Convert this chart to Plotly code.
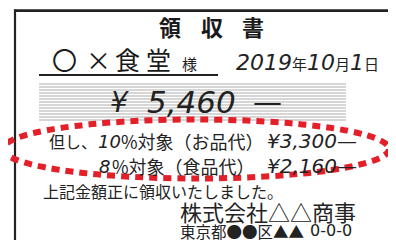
import plotly.graph_objects as go

# ---- data ----
title_chars = ["領", "収", "書"]
customer_chars = ["〇", "×", "食", "堂"]
customer_suffix = "様"
date_year, date_month, date_day = 2019, 10, 1
total_amount = 5460
tax_rates = [10, 8]
item_labels = ["対象（お品代）", "対象（食品代）"]
item_amounts = [3300, 2160]
note_text = "上記金額正に領収いたしました。"
company_name = "株式会社△△商事"
address_text = "東京都●●区▲▲"
address_number = "0-0-0"

W, H = 396, 240
OFF = 8  # page body margin
JP = "Noto Sans CJK JP"
LAT = "DejaVu Sans"

fig = go.Figure()
shapes = []
ann = []

def text(x, y, s, size, family=JP, anchor="left", color="#222222", yanchor="middle"):
    ann.append(dict(x=x, y=y, text=s, showarrow=False, xanchor=anchor, yanchor=yanchor,
                    font=dict(size=size, family=family, color=color),
                    xref="x", yref="y", borderpad=0))

# border
shapes.append(dict(type="line", x0=14, x1=W + 5, y0=10.7, y1=10.7, line=dict(color="#222", width=2.8)))
shapes.append(dict(type="line", x0=15, x1=15, y0=9.5, y1=H + 5, line=dict(color="#222", width=2.2)))

# title
for cx, ch in zip([170, 212, 253], title_chars):
    text(cx, 26, "<b>" + ch + "</b>", 22, anchor="center", color="#1a1a1a")

# customer
for cx, ch in zip([64, 98, 127, 158], customer_chars):
    text(cx, 59, ch, 25, anchor="center", color="#1a1a1a")
text(189, 63, customer_suffix, 15, anchor="center")
shapes.append(dict(type="line", x0=39, x1=218, y0=75, y1=75, line=dict(color="#222", width=2)))

# date
date_html = ("<i>%d</i><span style='font-size:15px'>年</span><i>%d</i>"
             "<span style='font-size:15px'>月</span><i>%d</i><span style='font-size:15px'>日</span>"
             % (date_year, date_month, date_day))
text(235, 62, date_html, 22, family=LAT + ", " + JP)

# striped amount box
y = 84
while y <= 121:
    shapes.append(dict(type="line", x0=39, x1=346, y0=y, y1=y, line=dict(color="#c9c9c9", width=1.6)))
    y += 3

text(119, 102, "<i>¥</i>", 28, family=LAT, anchor="center")
text(146, 102, "<i>{:,}</i>".format(total_amount), 31, family=LAT)
text(252, 102, "—", 29, family=LAT)

# red dotted ellipse
shapes.append(dict(type="circle", x0=3, x1=389, y0=119.5, y1=178.5,
                   line=dict(color="#e3202a", width=6, dash="8px,6px")))

# detail lines
text(48, 141, "但し、", 16)
line_y = [141, 166]
rate_x = [97, 98]
label_x = [120, 111]
for i in range(2):
    text(rate_x[i], line_y[i], "<i>%d</i>" % tax_rates[i], 18, family=LAT)
    text(label_x[i], line_y[i], "%" + item_labels[i], 18)
    text(266, line_y[i], "<i>¥{:,}—</i>".format(item_amounts[i]), 20, family=LAT)

# footer
text(42, 191, note_text, 16)
text(179, 211, company_name, 22)
text(179, 230.5, address_text, 15.5)
text(309, 230.5, address_number, 16, family=LAT)

fig.update_layout(
    width=W - OFF, height=H - OFF, autosize=False,
    margin=dict(l=0, r=0, t=0, b=0),
    paper_bgcolor="white", plot_bgcolor="white",
    xaxis=dict(range=[OFF, W], visible=False, fixedrange=True),
    yaxis=dict(range=[H, OFF], visible=False, fixedrange=True),
    shapes=shapes, annotations=ann, showlegend=False,
)
fig.write_html("out.html", config={"displayModeBar": False})
